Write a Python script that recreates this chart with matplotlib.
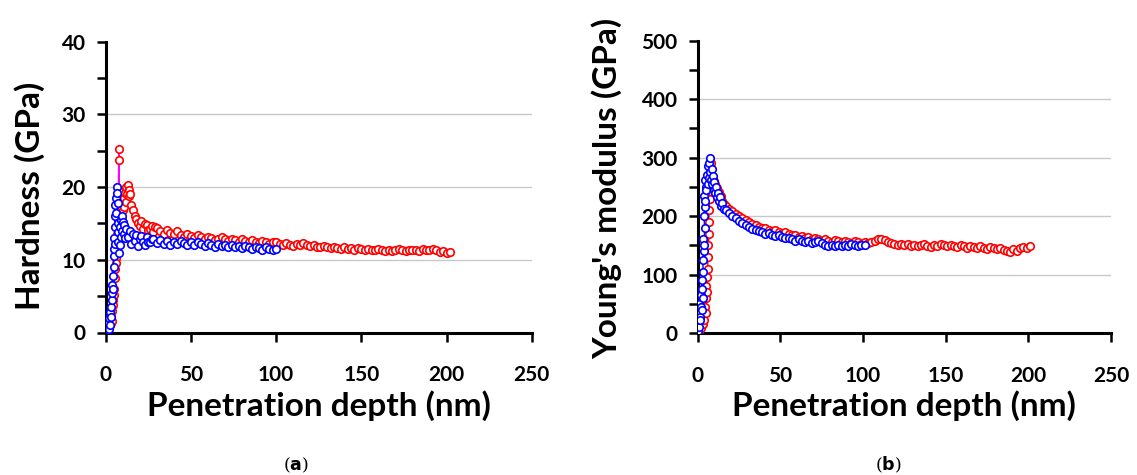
import matplotlib
matplotlib.use("Agg")
import matplotlib.pyplot as plt
from matplotlib.ticker import MultipleLocator

plt.rcParams['font.family'] = ['Lato', 'DejaVu Sans']

# ---------------- data: hardness ----------------
h_red_depth = [0.0, 0.3, 0.6, 0.9, 1.2, 1.5, 1.8, 2.1, 2.4, 2.7, 3.0, 3.3, 3.6, 3.9, 4.2, 4.5, 4.8, 5.1,
               5.4, 5.7, 6.0, 6.3, 6.6, 6.9, 7.2, 7.4, 7.6, 7.8, 8.0, 8.3, 8.6, 9.0, 9.4, 9.8, 10.2, 10.6,
               11.0, 11.4, 11.8, 12.2, 12.6, 13.0, 13.4, 13.8,
               14, 15, 16, 17, 18, 19, 20, 21, 22, 23, 24, 25, 26, 27, 28, 29, 30, 32, 34, 36, 38, 40, 42, 44, 46, 48, 50,
               52, 54, 56, 58, 60, 62, 64, 66, 68, 70, 72, 74, 76, 78, 80, 82, 84, 86, 88, 90, 92, 94,
               96, 98, 100, 102, 104, 106, 108, 110, 112, 114, 116, 118, 120, 122, 124, 126, 128, 130,
               132, 134, 136, 138, 140, 142, 144, 146, 148, 150, 152, 154, 156, 158, 160, 162, 164, 166,
               168, 170, 172, 174, 176, 178, 180, 182, 184, 186, 188, 190, 192, 194, 196, 198, 200, 202]
h_red = [0.2, 0.5, 0.3, 0.8, 0.4, 1.2, 0.7, 1.5, 1.0, 1.8, 1.3, 2.2, 1.6, 3.0, 4.5, 3.8, 6.0, 5.2,
         7.5, 8.8, 10.2, 9.5, 11.8, 13.5, 15.2, 17.0, 23.7, 25.3, 19.5, 18.2, 17.0, 16.2, 17.8, 15.5, 16.8, 18.5,
         17.2, 19.2, 18.0, 20.0, 19.0, 20.3, 18.8, 19.6,
         19.0, 17.5, 16.8, 16.0, 15.6, 15.0, 14.7, 15.3, 14.3, 14.9, 14.8, 14.1, 14.2, 14.7, 13.8, 14.5, 14.4, 14.0, 13.6, 14.1, 13.7, 13.5, 13.9, 13.4, 13.2, 13.6, 13.3,
         13.0, 13.4, 13.1, 12.8, 13.2, 13.0, 12.7, 12.9, 13.1, 12.8, 12.6, 12.9, 12.7, 12.5, 12.8, 12.6, 12.4, 12.7, 12.5, 12.3, 12.6, 12.4,
         12.2, 12.5, 12.4, 12.2, 12.0, 12.3, 12.1, 11.9, 12.2, 12.0, 12.3, 12.1, 11.9, 12.1, 11.8, 11.7, 11.9, 11.7,
         11.6, 11.8, 11.6, 11.5, 11.7, 11.5, 11.6, 11.4, 11.6, 11.5, 11.3, 11.5, 11.4, 11.3, 11.5, 11.3, 11.2, 11.4,
         11.2, 11.3, 11.5, 11.3, 11.2, 11.4, 11.3, 11.4, 11.2, 11.5, 11.4, 11.3, 11.5, 11.3, 11.1, 11.2, 11.0, 11.1]

h_blue_depth = [0.0, 0.3, 0.5, 0.8, 1.0, 1.3, 1.6, 1.9, 2.2, 2.5, 2.8, 3.1, 3.4, 3.7, 3.5, 3.8, 4.1, 4.4,
                4.6, 4.9, 4.7, 5.0, 5.3, 5.5, 5.2, 5.6, 5.9, 6.2, 6.5, 6.8, 7.0, 7.3, 7.1, 7.5, 7.8, 8.1,
                8.4, 8.7, 9.0, 9.4, 9.8, 10.2, 10.6, 11.0, 11.5, 12.0,
                13, 14, 15, 16, 17, 18, 19, 20, 21, 22, 23, 24, 25, 26, 27, 28, 30, 32, 34, 36, 38, 40, 42, 44, 46, 48, 50,
                52, 54, 56, 58, 60, 62, 64, 66, 68, 70, 72, 74, 76, 78, 80, 82, 84, 86, 88, 90, 92, 94,
                96, 98, 100]
h_blue = [0.5, 1.0, 0.2, 1.5, 0.6, 0.3, 1.2, 0.5, 2.0, 1.1, 2.8, 2.2, 3.5, 4.5, 5.5, 6.5, 6.0, 7.8,
          9.0, 10.5, 11.5, 13.0, 12.2, 14.5, 16.0, 17.5, 16.5, 18.5, 20.0, 19.2, 17.8, 15.0, 12.5, 13.8, 11.0, 14.5,
          12.0, 15.5, 13.2, 16.0, 14.0, 15.2, 13.5, 14.8, 13.0, 14.3,
          13.2, 14.0, 12.2, 13.6, 12.6, 13.4, 11.9, 12.9, 13.3, 12.5, 12.0, 13.1, 12.4, 12.4, 12.9, 12.8, 12.3, 12.7, 12.2, 12.6, 12.1, 12.5, 12.2, 12.6, 12.3, 12.0, 12.4,
          12.1, 12.5, 12.2, 11.9, 12.3, 12.0, 11.8, 12.2, 11.9, 12.1, 11.8, 12.0, 11.7, 11.9, 11.6, 11.9, 11.7, 11.5, 11.8, 11.6, 11.4, 11.7,
          11.5, 11.3, 11.5]

# ---------------- data: Young's modulus ----------------
e_red_depth = [0.0, 0.5, 1.0, 1.5, 2.0, 2.5, 3.0, 3.5, 4.0, 4.5, 4.8, 5.0, 5.3, 5.6, 5.9, 6.2, 6.0, 6.5,
               6.8, 6.6, 7.0, 7.3, 7.1, 7.6, 7.9, 8.2, 8.6, 9.0, 9.4, 9.8, 10.2, 10.6, 11.0, 11.5, 12.0,
               12.6, 13.2, 14.0, 15.0, 16.0,
               17, 19, 21, 23, 25, 27, 29, 31, 33, 35, 37, 39, 41, 43, 45, 47, 49, 51, 53, 55, 57, 59,
               61, 63, 65, 67, 69, 71, 73, 75, 77, 79, 81, 83, 85, 87, 89, 91, 93, 95, 97, 99, 101, 103,
               105, 107, 109, 111, 113, 115, 117, 119, 121, 123, 125, 127, 129, 131, 133, 135, 137, 139,
               141, 143, 145, 147, 149, 151, 153, 155, 157, 159, 161, 163, 165, 167, 169, 171, 173, 175,
               177, 179, 181, 183, 185, 187, 189, 191, 193, 195, 197, 199, 201]
e_red = [1, 5, 3, 12, 8, 20, 15, 30, 22, 45, 35, 60, 80, 70, 95, 110, 130, 150,
         170, 190, 210, 230, 250, 268, 291, 270, 255, 265, 248, 260, 245, 255, 240, 248, 236,
         242, 230, 234, 225, 220,
         218, 212, 208, 204, 200, 196, 193, 190, 186, 184, 181, 179, 180, 177, 175, 176, 173, 171, 172, 169, 167, 168,
         165, 166, 163, 164, 161, 162, 160, 158, 161, 158, 156, 159, 157, 155, 158, 156, 154, 157, 155, 153, 156, 154,
         155, 158, 160, 161, 159, 156, 154, 152, 151, 153, 150, 152, 149, 151, 148, 150, 152, 149,
         147, 151, 149, 152, 150, 148, 151, 149, 147, 150, 148, 146, 149, 147, 145, 148, 146, 144,
         147, 145, 143, 146, 142, 140, 139, 143, 141, 145, 147, 146, 148]

e_blue_depth = [0.0, 0.4, 0.2, 0.8, 1.2, 1.0, 1.6, 2.0, 1.8, 2.4, 2.8, 2.5, 3.0, 3.3, 3.1, 3.6, 3.4, 3.9,
                4.2, 3.8, 4.4, 4.1, 4.6, 4.9, 4.5, 5.2, 5.6, 6.0, 6.4, 6.8, 7.1, 7.4, 7.7, 8.0, 8.4,
                8.8, 9.2, 9.6, 10.0, 10.5, 11.0, 11.5, 12.0, 12.6, 13.2, 14.0, 15.0, 16.0,
                17, 19, 21, 23, 25, 27, 29, 31, 33, 35, 37, 39, 41, 43, 45, 47, 49, 51, 53, 55, 57, 59,
                61, 63, 65, 67, 69, 71, 73, 75, 77, 79, 81, 83, 85, 87, 89, 91, 93, 95, 97, 99, 101]
e_blue = [3, 18, 35, 10, 28, 50, 22, 45, 65, 40, 75, 90, 60, 105, 125, 140, 160, 150,
          180, 200, 215, 235, 225, 250, 262, 245, 270, 255, 285, 265, 290, 300, 275, 262, 280,
          255, 268, 245, 258, 240, 250, 232, 240, 225, 232, 218, 222, 212,
          210, 205, 200, 196, 191, 188, 184, 181, 178, 176, 174, 172, 170, 171, 168, 166, 167, 164, 162, 163, 160, 158,
          160, 157, 155, 157, 154, 156, 158, 154, 151, 149, 151, 148, 150, 148, 151, 149, 152, 150, 148, 150, 151]

x_ticks = [0, 50, 100, 150, 200, 250]
h_ticks = [0, 10, 20, 30, 40]
e_ticks = [0, 100, 200, 300, 400, 500]

W, H = 1137, 475
fig = plt.figure(figsize=(W / 100, H / 100), dpi=100)

ax1 = fig.add_axes([105.7 / W, 1 - 332.5 / H, (531.7 - 105.7) / W, (332.5 - 41.7) / H])
ax2 = fig.add_axes([697.7 / W, 1 - 333.0 / H, (1111.0 - 697.7) / W, (333.0 - 40.7) / H])

mk = dict(marker='o', markersize=5.4, markerfacecolor='white', markeredgewidth=1.2)

ax1.plot(h_red_depth, h_red, color='#ff00ff', markeredgecolor='#ff0000', linewidth=1.0, zorder=3, **mk)
ax1.plot(h_blue_depth, h_blue, color='#0000ff', markeredgecolor='#0000ff', linewidth=1.0, zorder=4, **mk)
ax2.plot(e_red_depth, e_red, color='#ff0000', markeredgecolor='#ff0000', linewidth=1.0, zorder=3, **mk)
ax2.plot(e_blue_depth, e_blue, color='#0000ff', markeredgecolor='#0000ff', linewidth=1.0, zorder=4, **mk)

for ax, yt, ymax, minor in ((ax1, h_ticks, 40, 5), (ax2, e_ticks, 500, 50)):
    ax.set_xlim(0, 250)
    ax.set_ylim(0, ymax)
    ax.set_xticks(x_ticks)
    ax.set_yticks(yt)
    ax.yaxis.set_minor_locator(MultipleLocator(minor))
    ax.spines['top'].set_visible(False)
    ax.spines['right'].set_visible(False)
    for s in ('left', 'bottom'):
        ax.spines[s].set_linewidth(2.2)
        ax.spines[s].set_color('black')
    ax.tick_params(axis='both', which='both', direction='out', length=6.5, width=1.8,
                   labelsize=15)
    ax.tick_params(axis='x', pad=17)
    ax.tick_params(axis='y', pad=8)
    for lab in ax.get_xticklabels() + ax.get_yticklabels():
        lab.set_fontweight('bold')
    ax.yaxis.grid(True, color='#c8c8c8', linewidth=1.0)
    ax.set_axisbelow(True)
    gl = ax.get_ygridlines()
    gl[0].set_visible(False)
    gl[-1].set_visible(False)

lab_kw = dict(fontsize=24, fontweight='bold')
fig.text(318.7 / W, 1 - 406 / H, 'Penetration depth (nm)', ha='center', va='center', **lab_kw)
fig.text(904.0 / W, 1 - 406 / H, 'Penetration depth (nm)', ha='center', va='center', **lab_kw)
fig.text(30 / W, 1 - 196 / H, 'Hardness (GPa)', ha='center', va='center', rotation=90, **lab_kw)
fig.text(607 / W, 1 - 188 / H, "Young's modulus (GPa)", ha='center', va='center', rotation=90, **lab_kw)

cap_kw = dict(fontsize=12.5, family=['DejaVu Serif'], ha='center', va='center')
fig.text(296 / W, 1 - 465 / H, r'($\mathbf{a}$)', **cap_kw)
fig.text(888 / W, 1 - 465 / H, r'($\mathbf{b}$)', **cap_kw)

fig.savefig('out.png', dpi=100)
